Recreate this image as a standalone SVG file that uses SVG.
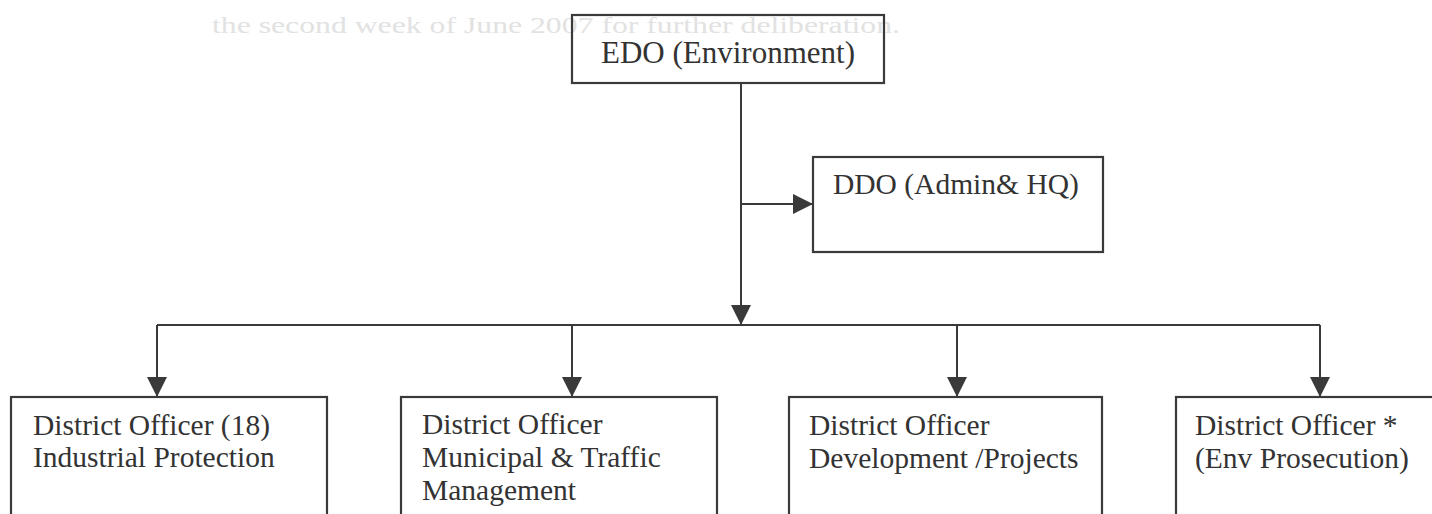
<svg xmlns="http://www.w3.org/2000/svg" width="1432" height="514" viewBox="0 0 1432 514">
<style>
.bg{fill:#ffffff}
.ghost{font-family:"Liberation Serif",serif;font-size:24px;fill:#e2e2e2}
.box{fill:none;stroke:#3a3a3a;stroke-width:2.2}
.lbl{font-family:"Liberation Serif",serif;font-size:29.5px;fill:#333333}
.edo{font-size:31px}
.conn{fill:none;stroke:#3a3a3a;stroke-width:2}
</style>
<defs>
<marker id="ah" viewBox="0 0 20 20" refX="20" refY="10" markerWidth="20" markerHeight="20" markerUnits="userSpaceOnUse" orient="auto">
<path d="M0,0 L20,10 L0,20 Z" fill="#3a3a3a"/>
</marker>
</defs>
<rect class="bg" x="0" y="0" width="1432" height="514"/>
<text class="ghost" x="212" y="33" textLength="688" lengthAdjust="spacingAndGlyphs">the second week of June 2007 for further deliberation.</text>

<g id="connectors">
<line class="conn" x1="741" y1="83" x2="741" y2="325" marker-end="url(#ah)"/>
<line class="conn" x1="741" y1="204" x2="813" y2="204" marker-end="url(#ah)"/>
<line class="conn" x1="157" y1="325" x2="1320" y2="325"/>
<line class="conn" x1="157" y1="325" x2="157" y2="397" marker-end="url(#ah)"/>
<line class="conn" x1="572" y1="325" x2="572" y2="397" marker-end="url(#ah)"/>
<line class="conn" x1="957" y1="325" x2="957" y2="397" marker-end="url(#ah)"/>
<line class="conn" x1="1320" y1="325" x2="1320" y2="397" marker-end="url(#ah)"/>
</g>

<g id="edo">
<rect class="box" x="572" y="15" width="312" height="68"/>
<text class="lbl edo" x="728" y="63" text-anchor="middle">EDO (Environment)</text>
</g>

<g id="ddo">
<rect class="box" x="813" y="157" width="290" height="95"/>
<text class="lbl" x="833" y="194">DDO (Admin&amp; HQ)</text>
</g>

<g id="do-industrial">
<rect class="box" x="11" y="397" width="316" height="140"/>
<text class="lbl" x="33" y="435">District Officer (18)</text>
<text class="lbl" x="33" y="467">Industrial Protection</text>
</g>

<g id="do-municipal">
<rect class="box" x="401" y="397" width="316" height="140"/>
<text class="lbl" x="422" y="434">District Officer</text>
<text class="lbl" x="422" y="467">Municipal &amp; Traffic</text>
<text class="lbl" x="422" y="500">Management</text>
</g>

<g id="do-development">
<rect class="box" x="789" y="397" width="313" height="140"/>
<text class="lbl" x="809" y="435">District Officer</text>
<text class="lbl" x="809" y="468">Development /Projects</text>
</g>

<g id="do-prosecution">
<rect class="box" x="1176" y="397" width="316" height="140"/>
<text class="lbl" x="1195" y="435">District Officer *</text>
<text class="lbl" x="1195" y="468">(Env Prosecution)</text>
</g>
</svg>
